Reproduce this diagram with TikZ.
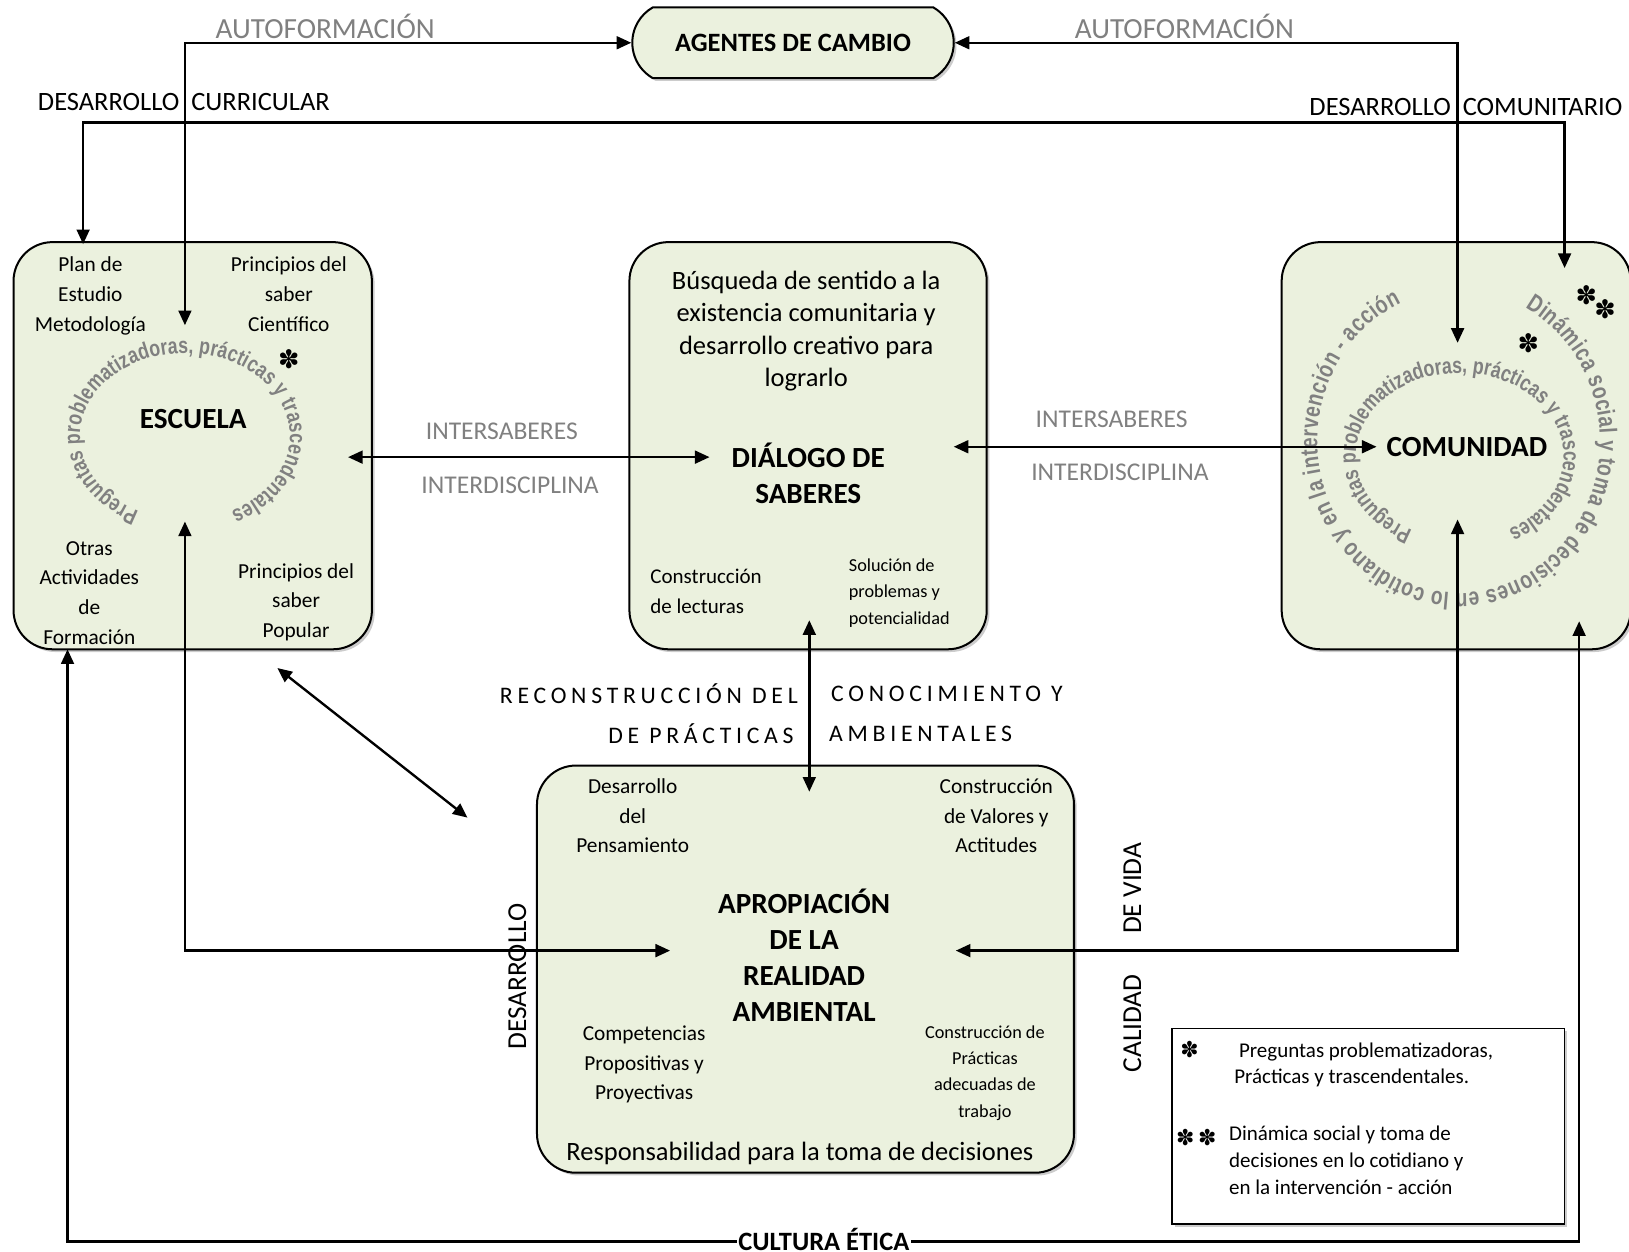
\documentclass[tikz,border=0pt]{standalone}
\usepackage{fontspec}
\setmainfont{Carlito}
\newfontfamily\arcfont[FakeStretch=0.78]{Liberation Sans Bold}
\newfontfamily\starfont{DejaVu Sans}
\usetikzlibrary{positioning, arrows.meta, decorations.text, shadows, shapes.misc}
\definecolor{boxgreen}{HTML}{EBF1DE}
\definecolor{labelgray}{HTML}{808080}
\tikzset{
  every node/.style={text=black, inner sep=1pt, font=\fontsize{11.7}{16.2}\selectfont},
  box/.style={draw=black, fill=boxgreen, line width=1.1pt, rounded corners=0.75cm, minimum width=6.9cm, minimum height=7.84cm, drop shadow={shadow xshift=1.5pt, shadow yshift=-1.5pt, fill=black!40}},
  title/.style={font=\bfseries\fontsize{16}{20}\selectfont},
  caps/.style={font=\fontsize{15}{18}\selectfont},
  soft/.style={text=labelgray, font=\fontsize{14}{17}\selectfont},
  spaced/.style={font=\fontsize{13}{16}\selectfont\addfontfeature{LetterSpace=20}},
  small/.style={font=\fontsize{10}{14.3}\selectfont},
  starmark/.style={font=\starfont\fontsize{14}{14}\selectfont, inner sep=0pt},
  link/.style={draw=black, line width=1.3pt, {Triangle[length=8pt,width=7pt]}-{Triangle[length=8pt,width=7pt]}},
  ringsmall/.style={decorate, decoration={text effects along path, text={#1}, text effects/.cd, text along path,
    fit text to path, characters={inner sep=0pt, text=labelgray, font=\arcfont\fontsize{12.5}{13}\selectfont}}},
  ringbig/.style={decorate, decoration={text effects along path, text={#1}, text effects/.cd, text along path,
    fit text to path, characters={inner sep=0pt, text=labelgray, font=\arcfont\fontsize{13.5}{14}\selectfont}}}
}

\begin{document}
\begin{tikzpicture}[x=0.02cm, y=-0.02cm]
  \useasboundingbox (0,0) rectangle (1568,1205);

  % Boxes
  \node (escuela) [box] at (185.5,429) {};
  \node (dialogo) [box, right=4.92cm of escuela, minimum width=6.88cm] {};
  \node (comunidad) [box, right=5.64cm of dialogo, minimum width=6.72cm] {};
  \node (apropiacion) [box, below=2.2cm of dialogo, xshift=-0.05cm, minimum width=10.34cm] {};
  \node (agentes) [above=3.12cm of dialogo, xshift=-0.29cm, draw=black, fill=boxgreen, line width=1.1pt,
    rounded rectangle, rounded rectangle arc length=120, minimum width=6.26cm, minimum height=1.36cm,
    font=\bfseries\fontsize{14.5}{17}\selectfont, drop shadow={shadow xshift=1.5pt, shadow yshift=-1.5pt, fill=black!40}] {AGENTES DE CAMBIO};
  \node (legend) [draw=black, line width=0.9pt, fill=white, minimum width=7.56cm, minimum height=3.76cm,
    drop shadow={shadow xshift=1.5pt, shadow yshift=-1.5pt, fill=black!40}] at (1317,1084) {};

  % Rings of text
  \path[ringsmall={Preguntas problematizadoras, prácticas y trascendentales}]
    ([shift={(116:101 and 80)}]178,420) arc[start angle=116, end angle=424, x radius=101, y radius=80];
  \path[ringsmall={Preguntas problematizadoras, prácticas y trascendentales}]
    ([shift={(117:100 and 80)}]1405,439) arc[start angle=117, end angle=422, x radius=100, y radius=80];
  \path[ringbig={Dinámica social y toma de decisiones en lo cotidiano y en la intervención - acción}]
    ([shift={(-62:136 and 146)}]1404,425) arc[start angle=-62, end angle=246, x radius=136, y radius=146];

  % Escuela
  \node (plan) at (87,284.5) {\begin{tabular}{c} Plan de\\ Estudio\\ Metodología \end{tabular}};
  \node (cientifico) at (278,284.5) {\begin{tabular}{c} Principios del\\ saber\\ Científico \end{tabular}};
  \node (escuelaT) [title] at (186,403) {ESCUELA};
  \node (otras) at (86,571.5) {\begin{tabular}{c} Otras\\ Actividades\\ de\\ Formación \end{tabular}};
  \node (popular) at (285,579.5) {\begin{tabular}{c} Principios del\\ saber\\ Popular \end{tabular}};
  \node (escStar) [starmark] at (278,346) {✽};

  % Dialogo
  \node (busqueda) [font=\fontsize{14.5}{17.8}\selectfont] at (776,319) {\begin{tabular}{c}
      Búsqueda de sentido a la\\ existencia comunitaria y\\ desarrollo creativo para\\ lograrlo \end{tabular}};
  \node (dialogoT) [title, font=\bfseries\fontsize{16}{19.9}\selectfont] at (778,460.5) {\begin{tabular}{c} DIÁLOGO DE\\ SABERES \end{tabular}};
  \node (lecturas) [anchor=west, font=\fontsize{11.5}{16.5}\selectfont] at (624,570.5) {\begin{tabular}{@{}l@{}} Construcción\\ de lecturas \end{tabular}};
  \node (solucion) [anchor=west, small] at (815,570.5) {\begin{tabular}{@{}l@{}} Solución de\\ problemas y\\ potencialidad \end{tabular}};

  % Comunidad
  \node (comunidadT) [title] at (1412,430) {COMUNIDAD};
  \node (comStar) [starmark] at (1471,330) {✽};
  \node (comStarA) [starmark] at (1527,284) {✽};
  \node (comStarB) [starmark] at (1545,298) {✽};

  % Apropiacion
  \node (pensamiento) at (609,786.5) {\begin{tabular}{c} Desarrollo\\ del\\ Pensamiento \end{tabular}};
  \node (valores) at (959,786.5) {\begin{tabular}{c} Construcción\\ de Valores y\\ Actitudes \end{tabular}};
  \node (apropiacionT) [font=\bfseries\fontsize{16}{19.7}\selectfont] at (774,924) {\begin{tabular}{c}
      APROPIACIÓN\\ DE LA\\ REALIDAD\\ AMBIENTAL \end{tabular}};
  \node (competencias) at (620,1024.5) {\begin{tabular}{c} Competencias\\ Propositivas y\\ Proyectivas \end{tabular}};
  \node (practicas) [small] at (948,1032.5) {\begin{tabular}{c} Construcción de\\ Prácticas\\ adecuadas de\\ trabajo \end{tabular}};
  \node (responsabilidad) [font=\fontsize{14.5}{17}\selectfont] at (770,1110) {Responsabilidad para la toma de decisiones};

  % Labels
  \node (autoL) [soft, font=\fontsize{16}{18}\selectfont] at (313,25) {AUTOFORMACIÓN};
  \node (autoR) [soft, font=\fontsize{16}{18}\selectfont] at (1140,25) {AUTOFORMACIÓN};
  \node (curricular) [caps, font=\fontsize{14.5}{17}\selectfont] at (177,98) {DESARROLLO\ \ CURRICULAR};
  \node (comunitario) [caps, font=\fontsize{14.5}{17}\selectfont] at (1411,103) {DESARROLLO\ \ COMUNITARIO};
  \node (interL1) [soft] at (483,415) {INTERSABERES};
  \node (interL2) [soft] at (491,467) {INTERDISCIPLINA};
  \node (interR1) [soft] at (1070,404) {INTERSABERES};
  \node (interR2) [soft] at (1078,455) {INTERDISCIPLINA};
  \node (recon1) [spaced, anchor=east] at (770,668) {RECONSTRUCCIÓN DEL};
  \node (recon2) [spaced, anchor=west] at (798,668) {CONOCIMIENTO Y};
  \node (recon3) [spaced, anchor=east] at (766,706) {DE PRÁCTICAS};
  \node (recon4) [spaced, anchor=west] at (796,706) {AMBIENTALES};
  \node (desarrollo) [caps, rotate=90] at (498,940) {DESARROLLO};
  \node (devida) [caps, rotate=90] at (1090,855) {DE VIDA};
  \node (calidad) [caps, rotate=90] at (1090,985) {CALIDAD};

  % Legend
  \node (legStar) [starmark, font=\starfont\fontsize{12}{12}\selectfont] at (1145,1010) {✽};
  \node (legOne) [anchor=west, font=\fontsize{11.5}{14.5}\selectfont] at (1186,1025.5) {\begin{tabular}{@{}l@{}}
      \ Preguntas problematizadoras,\\ Prácticas y trascendentales. \end{tabular}};
  \node (legStarA) [starmark, font=\starfont\fontsize{12}{12}\selectfont] at (1141,1095) {✽};
  \node (legStarB) [starmark, font=\starfont\fontsize{12}{12}\selectfont] at (1162,1095) {✽};
  \node (legTwo) [anchor=west, font=\fontsize{11.5}{14.8}\selectfont] at (1181,1119) {\begin{tabular}{@{}l@{}}
      Dinámica social y toma de\\ decisiones en lo cotidiano y\\ en la intervención - acción \end{tabular}};

  % Connector ends
  \coordinate (escTop) at (178,313);
  \coordinate (comTop) at (1403,330);
  \coordinate (escCurr) at (80,235);
  \coordinate (currBend) at (80,118);
  \coordinate (comCurr) at (1506,258);
  \coordinate (escMid) at (335,440);
  \coordinate (dlgLeft) at (683,440);
  \coordinate (dlgRight) at (918,430);
  \coordinate (comMid) at (1325,430);
  \coordinate (dlgLow) at (779,597);
  \coordinate (aprTop) at (779,762);
  \coordinate (escLow) at (178,502);
  \coordinate (aprLeft) at (645,915);
  \coordinate (comLow) at (1403,500);
  \coordinate (aprRight) at (920,915);
  \coordinate (escCorner) at (267,643);
  \coordinate (aprCorner) at (450,787);
  \coordinate (escFoot) at (65,625);
  \coordinate (ethicL) at (65,1195);
  \coordinate (ethicR) at (1520,1195);
  \coordinate (comFoot) at (1520,598);

  % Connectors
  \draw[link] (escTop) |- (agentes.west);
  \draw[link] (agentes.east) -| (comTop);
  \draw[link] (escCurr) -- (currBend) -| (comCurr);
  \draw[link] (escMid) -- (dlgLeft);
  \draw[link] (dlgRight) -- (comMid);
  \draw[link] (dlgLow) -- (aprTop);
  \draw[link] (escLow) |- (aprLeft);
  \draw[link] (comLow) |- (aprRight);
  \draw[link] (escCorner) -- (aprCorner);
  \draw[link] (escFoot) -- (ethicL) -- (ethicR) -- (comFoot);
  \node (cultura) [fill=white, font=\bfseries\fontsize{14.5}{17}\selectfont] at (793,1193) {CULTURA ÉTICA};
\end{tikzpicture}
\end{document}
